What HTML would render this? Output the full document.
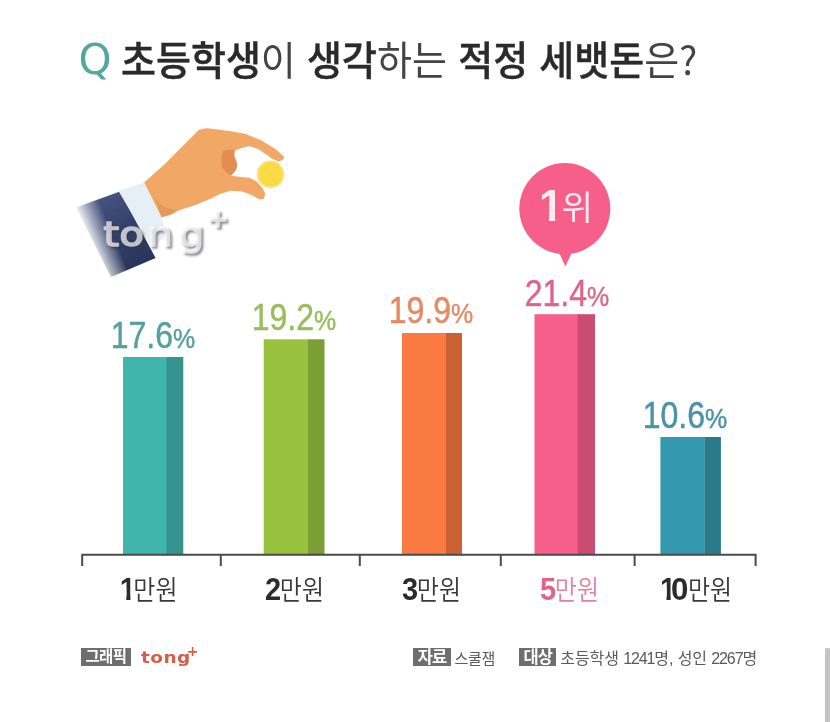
<!DOCTYPE html>
<html lang="ko">
<head>
<meta charset="utf-8">
<title>초등학생이 생각하는 적정 세뱃돈은?</title>
<style>
html,body{margin:0;padding:0;background:#fff;}
body{width:830px;height:722px;position:relative;overflow:hidden;
 font-family:"Liberation Sans","Noto Sans CJK KR",sans-serif;color:#333;}
#art{position:absolute;left:0;top:0;width:830px;height:722px;}
.t{position:absolute;white-space:nowrap;line-height:1;}
.title{transform:scaleY(1.04);transform-origin:0 100%;left:121px;top:40px;font-size:38px;color:#444;font-weight:400;letter-spacing:0;word-spacing:0.7px;}
.title b{font-weight:500;color:#2a2a2a;-webkit-text-stroke:0.4px #2a2a2a;}
.qq{left:78.5px;top:39px;color:#52a89d;font-size:42px;font-family:"DejaVu Sans",sans-serif;}
.pct{-webkit-text-stroke:0.45px currentColor;font-size:36px;font-family:"Liberation Sans",sans-serif;letter-spacing:0;transform:translateX(-50%) scaleX(0.89);}
.pct u{text-decoration:none;font-size:28px;}
.lab{font-size:24px;font-weight:350;color:#383838;}
.lab b.o{clip-path:polygon(0 0,0.372em 0,0.372em 1em,0.228em 1em,0.228em 0.46em,0 0.46em);}
.lab i{font-style:normal;display:inline-block;transform:scaleY(1.13);transform-origin:0 88%;}
.lab b{letter-spacing:-1.3px;display:inline-block;transform:scaleY(1.08);transform-origin:0 82%;font-weight:700;font-size:29px;color:#2b2b2b;font-family:"Liberation Sans",sans-serif;}
.foot{font-size:15px;color:#5a5a5a;letter-spacing:-0.3px;}
.d{letter-spacing:-1.1px;}
.tag{position:absolute;background:#6e6e6e;color:#fff;font-weight:700;font-size:16.5px;line-height:18.6px;height:17.8px;top:648.2px;text-align:center;white-space:nowrap;letter-spacing:-0.9px;overflow:hidden;}
</style>
</head>
<body>
<svg id="art" width="830" height="722" viewBox="0 0 830 722">
  <!-- hand illustration -->
  <defs>
    <filter id="soft" x="-5%" y="-5%" width="110%" height="110%"><feGaussianBlur stdDeviation="0.7"/></filter>
    <linearGradient id="slvc" gradientUnits="userSpaceOnUse" x1="100" y1="200" x2="134" y2="270">
      <stop offset="0" stop-color="#46527e"/>
      <stop offset="0.4" stop-color="#36426c"/>
      <stop offset="1" stop-color="#29345a"/>
    </linearGradient>
    <linearGradient id="slvm" gradientUnits="userSpaceOnUse" x1="81" y1="234" x2="108" y2="222.5">
      <stop offset="0" stop-color="#fff" stop-opacity="0"/>
      <stop offset="0.2" stop-color="#fff" stop-opacity="0.08"/>
      <stop offset="0.55" stop-color="#fff" stop-opacity="0.5"/>
      <stop offset="1" stop-color="#fff" stop-opacity="1"/>
    </linearGradient>
    <mask id="slvmask" maskUnits="userSpaceOnUse" x="60" y="180" width="120" height="110"><rect x="60" y="180" width="120" height="110" fill="url(#slvm)"/></mask>
  </defs>
  <g filter="url(#soft)">
    <path d="M119.9 191.4L155.6 258L111 277L76 207.5Z" fill="url(#slvc)" mask="url(#slvmask)"/>
    <path d="M118.5 191L144.2 182.5L161.6 217.2L166.4 236L151.5 247Z" fill="#e6eff6"/>
    <path d="M144.2 182.5L165.4 163.4L185.7 143.1L198.8 130.1Q205 127.5 211.8 128.7L227.7 130.8L245 133.7L261 140.2L275.4 148.9L283.4 156.1Q285 158.5 282.6 159.8Q280.5 161.5 278.3 161.2L272.5 159L266.7 154.7L258 148.9L249.4 146L243.6 147.5L235 150.4L234.2 156.1L237.1 163.4L235.7 170.6L230.6 175.7L240.7 177.1L249.4 177.8L256.6 181.4L262.4 188L265.3 193.7L263.9 198.8L259.5 199.5L252.3 195.2L242.2 191.6L230.6 190.8L220.5 193.7L208.9 199.5L194.5 205.3L180 210L171.2 214.5L161.6 217.2Z" fill="#f1a766"/>
    <path d="M155.5 199L161.6 217.2L171.2 214.5L177 209.5Q163 210 155.5 199Z" fill="#e2955a" opacity="0.8"/>
    <path d="M223.4 151.1Q229 148.5 235 150.4Q233.5 153 234.2 156.1L237.1 163.4Q237.5 167 235.7 170.6L230.6 175.7Q226 173 222.5 168Q220 160 223.4 151.1Z" fill="#e48d53"/>
    <circle cx="270.4" cy="174.2" r="13.7" fill="#f9e27a"/>
    <circle cx="270.6" cy="174.2" r="12" fill="#f8db45"/>
  </g>
  <!-- watermark -->
  <defs>
    <filter id="wms" x="-10%" y="-30%" width="125%" height="170%" color-interpolation-filters="sRGB">
      <feGaussianBlur in="SourceAlpha" stdDeviation="0.9" result="sb"/>
      <feOffset in="sb" dx="1.6" dy="1.8" result="so"/>
      <feFlood flood-color="#33333f" flood-opacity="0.55" result="sf"/>
      <feComposite in="sf" in2="so" operator="in" result="shadow"/>
      <feGaussianBlur in="SourceGraphic" stdDeviation="0.7" result="fg0"/>
      <feComponentTransfer in="fg0" result="fg"><feFuncA type="linear" slope="0.7"/></feComponentTransfer>
      <feMerge><feMergeNode in="shadow"/><feMergeNode in="fg"/></feMerge>
    </filter>
  </defs>
  <g font-family="'DejaVu Sans',sans-serif" font-size="34" stroke-linejoin="round" stroke-linecap="round" fill="#ffffff" stroke="#ffffff" stroke-width="1.6" filter="url(#wms)">
    <text transform="translate(104,246.3) scale(1.17,1)" x="-0.4 13.2 37.2 64" y="0">tong</text>
    <text x="207.2" y="226.6" font-size="25" font-weight="700">+</text>
  </g>
  <!-- bars -->
  <rect x="123" y="357" width="44" height="197.5" fill="#40b5ab"/>
  <rect x="166.5" y="357" width="16.8" height="197.5" fill="#35958e"/>
  <rect x="263.7" y="339.3" width="45" height="215.2" fill="#98c23d"/>
  <rect x="308" y="339.3" width="16.5" height="215.2" fill="#7b9f35"/>
  <rect x="402" y="333" width="44" height="221.5" fill="#fb7a42"/>
  <rect x="446" y="333" width="16" height="221.5" fill="#cc6035"/>
  <rect x="534.5" y="314.2" width="44" height="240.3" fill="#f75f8b"/>
  <rect x="577.7" y="314.2" width="17.3" height="240.3" fill="#c94d72"/>
  <rect x="660.4" y="437" width="44" height="117.5" fill="#3498ae"/>
  <rect x="704.3" y="437" width="16.6" height="117.5" fill="#2a7a8c"/>
  <!-- axis -->
  <path d="M82.2 566V554.8H755.6V566M220.8 554V566M359.8 554V566M500.8 554V566M634.6 554V566" fill="none" stroke="#4a4a4a" stroke-width="2"/>
  <!-- bubble -->
  <circle cx="564.8" cy="208.6" r="45.5" fill="#f55f8a"/>
  <path d="M558 250L565.3 266.4L573 250Z" fill="#f55f8a"/>
  <!-- grey strip -->
  <rect x="825" y="648.2" width="5" height="74" fill="#c4c4c4"/>
</svg>

<div class="t qq">Q</div>
<div class="t title"><b>초등학생</b>이 <b>생각</b>하는 <b>적정 세뱃돈</b>은<span style="font-family:'Noto Sans CJK KR',sans-serif;">?</span></div>

<div class="t pct" style="left:152.5px;top:318px;color:#569f9f;">17.6<u>%</u></div>
<div class="t pct" style="left:293.7px;top:300px;color:#98bd5c;">19.2<u>%</u></div>
<div class="t pct" style="left:430.8px;top:293px;color:#e58a63;">19.9<u>%</u></div>
<div class="t pct" style="left:567px;top:276px;color:#dc668b;">21.4<u>%</u></div>
<div class="t pct" style="left:685.2px;top:397.5px;color:#4a93a6;">10.6<u>%</u></div>

<div class="t" style="left:538.6px;top:183.5px;color:#fdeaf0;font-size:44.7px;font-weight:700;font-family:'Liberation Sans',sans-serif;transform:scaleX(0.97);transform-origin:0 0;clip-path:polygon(0 0,0.372em 0,0.372em 1em,0.228em 1em,0.228em 0.46em,0 0.46em);">1</div>
<div class="t" style="left:561.5px;top:191px;color:#fdeaf0;font-size:34.2px;font-weight:400;">위</div>

<div class="t lab" style="left:119.7px;top:576px;"><b class="o" style="letter-spacing:-2.5px;">1</b><i>만원</i></div>
<div class="t lab" style="left:265px;top:576px;"><b>2</b><i>만원</i></div>
<div class="t lab" style="left:402px;top:576px;"><b>3</b><i>만원</i></div>
<div class="t lab" style="left:540px;top:576px;color:#e6809f;"><b style="color:#e0638b;">5</b><i>만원</i></div>
<div class="t lab" style="left:659.9px;top:576px;"><b class="o" style="letter-spacing:-5.4px;">1</b><b style="letter-spacing:1.2px;transform:scaleY(1.08) scaleX(1.08);">0</b><i>만원</i></div>

<div class="tag" style="left:80.6px;width:50.7px;font-size:15.5px;letter-spacing:-0.6px;">그래픽</div>
<div class="t" style="left:140.5px;top:649.5px;color:#d65d47;font-weight:700;font-size:16.5px;font-family:'DejaVu Sans',sans-serif;letter-spacing:0.4px;transform:scaleX(1.12);transform-origin:0 0;">tong</div>
<div class="t" style="left:186.8px;top:643.8px;color:#d65d47;font-weight:700;font-size:14px;font-family:'DejaVu Sans',sans-serif;">+</div>
<div class="tag" style="left:413.3px;width:37.3px;">자료</div>
<div class="t foot" style="left:454.5px;top:651px;">스쿨잼</div>
<div class="tag" style="left:519.3px;width:36.8px;">대상</div>
<div class="t foot" style="left:560.3px;top:650.5px;font-size:16px;letter-spacing:-0.1px;">초등학생 <span class="d">1241</span>명, 성인 <span class="d">2267</span>명</div>
</body>
</html>
